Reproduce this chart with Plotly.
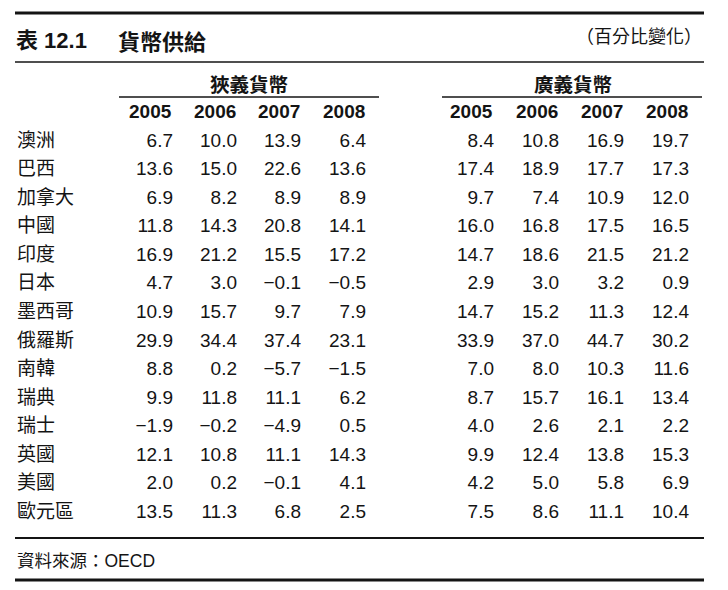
import plotly.graph_objects as go

# ---------------- data ----------------
countries = ["澳洲", "巴西", "加拿大", "中國", "印度", "日本", "墨西哥",
             "俄羅斯", "南韓", "瑞典", "瑞士", "英國", "美國", "歐元區"]
years = ["2005", "2006", "2007", "2008"]

narrow_2005 = [6.7, 13.6, 6.9, 11.8, 16.9, 4.7, 10.9, 29.9, 8.8, 9.9, -1.9, 12.1, 2.0, 13.5]
narrow_2006 = [10.0, 15.0, 8.2, 14.3, 21.2, 3.0, 15.7, 34.4, 0.2, 11.8, -0.2, 10.8, 0.2, 11.3]
narrow_2007 = [13.9, 22.6, 8.9, 20.8, 15.5, -0.1, 9.7, 37.4, -5.7, 11.1, -4.9, 11.1, -0.1, 6.8]
narrow_2008 = [6.4, 13.6, 8.9, 14.1, 17.2, -0.5, 7.9, 23.1, -1.5, 6.2, 0.5, 14.3, 4.1, 2.5]

broad_2005 = [8.4, 17.4, 9.7, 16.0, 14.7, 2.9, 14.7, 33.9, 7.0, 8.7, 4.0, 9.9, 4.2, 7.5]
broad_2006 = [10.8, 18.9, 7.4, 16.8, 18.6, 3.0, 15.2, 37.0, 8.0, 15.7, 2.6, 12.4, 5.0, 8.6]
broad_2007 = [16.9, 17.7, 10.9, 17.5, 21.5, 3.2, 11.3, 44.7, 10.3, 16.1, 2.1, 13.8, 5.8, 11.1]
broad_2008 = [19.7, 17.3, 12.0, 16.5, 21.2, 0.9, 12.4, 30.2, 11.6, 13.4, 2.2, 15.3, 6.9, 10.4]

narrow_label = "狹義貨幣"
broad_label = "廣義貨幣"
title_num = "表 12.1"
title_text = "貨幣供給"
unit_text = "（百分比變化）"
source_text = "資料來源：OECD"

# ---------------- layout constants ----------------
W, H = 728, 590
INK = "#141414"
NUM_FONT = "Liberation Sans, Arial, Helvetica, sans-serif"
CJK_FONT = "Noto Sans CJK TC, Noto Sans CJK SC, sans-serif"
MIX_FONT = "Liberation Sans, Noto Sans CJK TC, sans-serif"

narrow_cols = [173, 237, 301, 366]   # right edges (x-axis units = px)
broad_cols = [494, 559, 624, 689]
label_x = 17

row_top = 142.0
row_step = 28.54
n = len(countries)
dom_top_px = row_top - row_step / 2
dom_bot_px = row_top + (n - 0.5) * row_step


def py(p):
    return 1 - p / H


def fmt(v):
    s = f"{abs(v):.1f}"
    return ("−" + s) if v < 0 else s


fig = go.Figure()

series = [
    (narrow_cols, [narrow_2005, narrow_2006, narrow_2007, narrow_2008]),
    (broad_cols, [broad_2005, broad_2006, broad_2007, broad_2008]),
]
for cols, vals in series:
    for cx, col in zip(cols, vals):
        fig.add_trace(go.Scatter(
            x=[cx] * len(countries), y=countries, mode="text",
            text=[fmt(v) for v in col], textposition="middle left",
            textfont=dict(family=NUM_FONT, size=19, color=INK),
            hoverinfo="skip", showlegend=False, cliponaxis=False))

fig.add_trace(go.Scatter(
    x=[label_x] * len(countries), y=countries, mode="text",
    text=countries, textposition="middle right",
    textfont=dict(family=CJK_FONT, size=19, color=INK),
    hoverinfo="skip", showlegend=False, cliponaxis=False))

shapes = []


def hline(x0, x1, ypx, w):
    shapes.append(dict(type="line", xref="x", yref="paper", x0=x0, x1=x1,
                       y0=py(ypx), y1=py(ypx), line=dict(color=INK, width=w)))


hline(15, 704, 13, 3)
hline(15, 704, 62, 1.6)
hline(119, 379, 97, 1.6)
hline(442, 702, 97, 1.6)
hline(15, 704, 538, 1.8)
hline(15, 704, 580, 3)

ann = []


def text(x, ypx, t, size, family, anchor="left", bold=False):
    ann.append(dict(x=x, y=py(ypx), xref="x", yref="paper", text=(f"<b>{t}</b>" if bold else t),
                    showarrow=False, xanchor=anchor, yanchor="middle",
                    font=dict(family=family, size=size, color=INK)))


text(14, 40, title_num, 22, MIX_FONT, bold=True)
text(116, 40, title_text, 22, CJK_FONT, bold=True)
text(704, 35, unit_text, 18, CJK_FONT, anchor="right")
text(249, 83, narrow_label, 19.5, CJK_FONT, anchor="center", bold=True)
text(573, 83, broad_label, 19.5, CJK_FONT, anchor="center", bold=True)
for cols in (narrow_cols, broad_cols):
    for cx, yr in zip(cols, years):
        text(cx + 1, 111, yr, 19, NUM_FONT, anchor="right", bold=True)
text(15, 561, source_text, 17.5, MIX_FONT)

fig.update_layout(
    width=W, height=H, margin=dict(l=0, r=0, t=0, b=0),
    paper_bgcolor="white", plot_bgcolor="white",
    xaxis=dict(range=[0, W], visible=False, fixedrange=True),
    yaxis=dict(type="category", categoryarray=countries, categoryorder="array",
               range=[n - 0.5, -0.5], visible=False, fixedrange=True,
               domain=[py(dom_bot_px), py(dom_top_px)]),
    shapes=shapes, annotations=ann, showlegend=False,
)

fig.write_html("out.html", config={"displayModeBar": False},
               post_script="document.body.style.margin='0px';document.body.style.overflow='hidden';")
